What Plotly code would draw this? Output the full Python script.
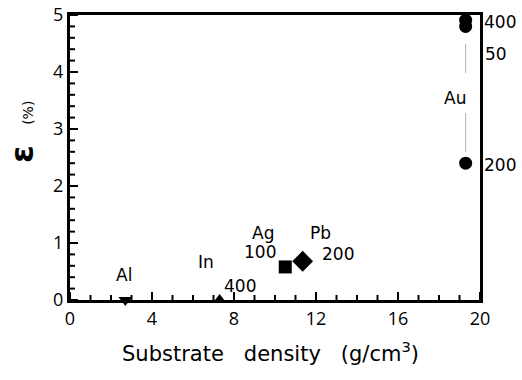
import plotly.graph_objects as go

# Data
metals = ["Al", "In", "Ag", "Pb", "Au", "Au", "Au"]
density = [2.7, 7.3, 10.5, 11.35, 19.3, 19.3, 19.3]
strain = [0.0, 0.0, 0.58, 0.68, 4.91, 4.8, 2.4]
symbols = ["triangle-down", "triangle-up", "square", "diamond", "circle", "circle", "circle"]
sizes = [12, 12, 13, 16, 13, 13, 13]

# Text labels (text, x, y)
label_text = ["Al", "In", "400", "Ag", "100", "Pb", "200", "400", "50", "Au", "200"]
label_x = [2.63, 6.63, 8.3, 9.41, 9.27, 12.2, 13.07, 20.98, 20.78, 18.78, 20.98]
label_y = [0.44, 0.67, 0.25, 1.18, 0.84, 1.18, 0.81, 4.88, 4.32, 3.54, 2.37]

# Au leader lines (x, y0, y1)
lead_x = [19.3, 19.3]
lead_y0 = [3.98, 2.6]
lead_y1 = [4.49, 3.28]

# Axes
X_RANGE = [0, 20]
Y_RANGE = [0, 5]
x_major = [0, 4, 8, 12, 16, 20]
x_minor = [v for v in range(0, 21) if v % 4]
y_major = [0, 1, 2, 3, 4, 5]
y_minor = [round(i * 0.2, 1) for i in range(26) if i % 5]

W, H = 522, 380
M = dict(l=70, r=42, t=15, b=80)
PW, PH = W - M["l"] - M["r"], H - M["t"] - M["b"]
XU = (X_RANGE[1] - X_RANGE[0]) / PW   # data units per pixel
YU = (Y_RANGE[1] - Y_RANGE[0]) / PH
font_fam = "DejaVu Sans, sans-serif"

fig = go.Figure()
for x, a, b in zip(lead_x, lead_y0, lead_y1):
    fig.add_trace(go.Scatter(x=[x, x], y=[a, b], mode="lines",
                             line=dict(color="#b0b0b0", width=1),
                             showlegend=False, hoverinfo="skip"))

# inward tick marks (drawn as line markers, positioned by the axis scales)
MAJ, MIN = 8, 5
for vals, L in ((x_major, MAJ), (x_minor, MIN)):
    fig.add_trace(go.Scatter(
        x=vals, y=[Y_RANGE[0] + YU * L / 2] * len(vals), mode="markers", cliponaxis=False,
        marker=dict(symbol="line-ns", size=L / 1.4, opacity=1,
                    line=dict(color="black", width=2)),
        showlegend=False, hoverinfo="skip"))
for vals, L in ((y_major, MAJ), (y_minor, MIN)):
    fig.add_trace(go.Scatter(
        x=[X_RANGE[0] + XU * L / 2] * len(vals), y=vals, mode="markers", cliponaxis=False,
        marker=dict(symbol="line-ew", size=L / 1.4, opacity=1,
                    line=dict(color="black", width=2)),
        showlegend=False, hoverinfo="skip"))

fig.add_trace(go.Scatter(
    x=density, y=strain, mode="markers", cliponaxis=False,
    marker=dict(symbol=symbols, size=sizes, color="black", opacity=1, line=dict(width=0)),
    showlegend=False,
))
for t, x, y in zip(label_text, label_x, label_y):
    fig.add_annotation(
        xref="paper", yref="paper", xanchor="center", yanchor="middle",
        x=(x - X_RANGE[0]) / (X_RANGE[1] - X_RANGE[0]),
        y=(y - Y_RANGE[0]) / (Y_RANGE[1] - Y_RANGE[0]),
        text=t, showarrow=False,
        font=dict(size=17, color="black", family=font_fam),
    )

# axis titles as annotations
fig.add_annotation(
    xref="paper", yref="paper", x=-48 / PW, y=168 / PH,
    xanchor="center", yanchor="middle", textangle=-90, showarrow=False,
    text="<b>ε</b>  <span style='font-size:14px'>(%)</span>",
    font=dict(size=32, color="black", family=font_fam),
)
fig.add_annotation(
    xref="paper", yref="paper", x=200 / PW, y=-52 / PH,
    xanchor="center", yanchor="middle", showarrow=False,
    text="Substrate&nbsp;&nbsp;&nbsp;density&nbsp;&nbsp;&nbsp;(g/cm<sup>3</sup>)",
    font=dict(size=21, color="black", family=font_fam),
)

fig.update_layout(template="none", width=W, height=H, margin=M, showlegend=False)
fig.update_xaxes(range=X_RANGE, tickvals=x_major, ticks="",
                 showline=True, linewidth=3, linecolor="black", mirror=True,
                 showgrid=False, zeroline=False, tickfont=dict(size=18, color="black"))
fig.update_yaxes(range=Y_RANGE, tickvals=y_major, ticks="",
                 showline=True, linewidth=3, linecolor="black", mirror=True,
                 showgrid=False, zeroline=False, tickfont=dict(size=18, color="black"))

fig.write_html("out.html")
